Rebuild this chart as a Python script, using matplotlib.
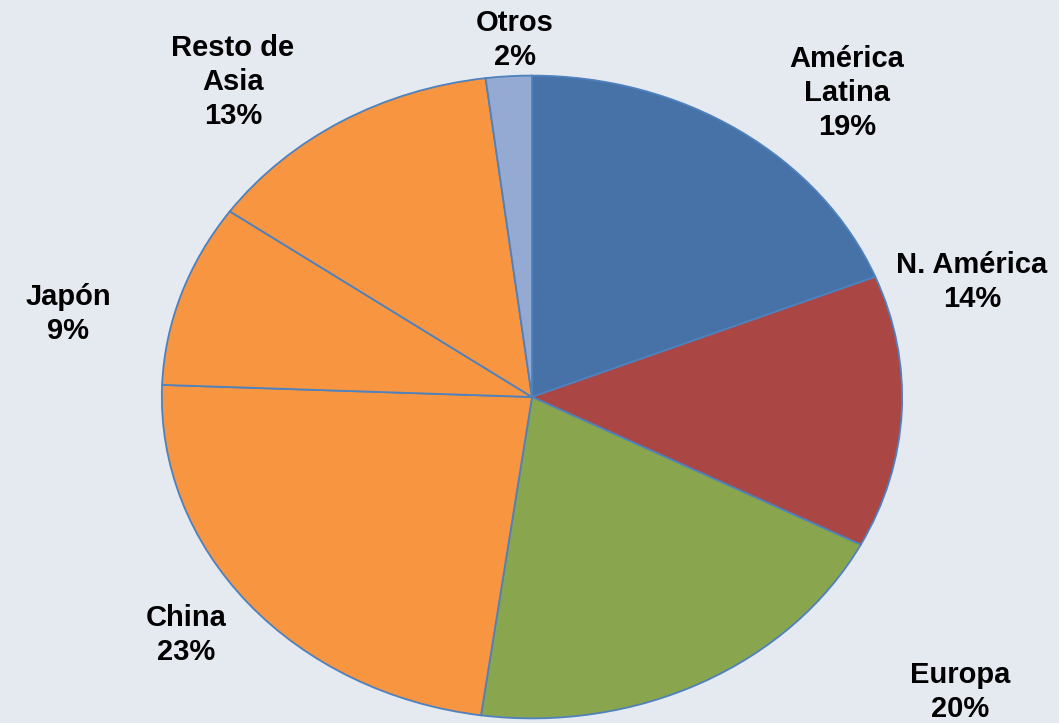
import matplotlib
matplotlib.use("Agg")
import matplotlib.pyplot as plt

categories = ["América\nLatina", "N. América", "Europa", "China", "Japón", "Resto de\nAsia", "Otros"]
values = [18.9, 13.7, 19.6, 23.4, 9.2, 13.2, 2.0]
colors = ["#4672A8", "#AA4644", "#89A64E", "#F79540", "#F79540", "#F79540", "#94AAD3"]
label_pos_px = [(847, 93), (972, 282), (960, 692), (186, 635), (68, 314), (233, 82), (515, 40)]

W, H = 1059, 723
fig = plt.figure(figsize=(W / 100, H / 100), dpi=100)
bg = "#E5EAF1"
fig.patch.set_facecolor(bg)

cx, cy, rx, ry = 532, 397, 372, 323
ax = fig.add_axes([(cx - rx) / W, (H - (cy + ry)) / H, 2 * rx / W, 2 * ry / H])
ax.set_facecolor(bg)
ax.pie(values, colors=colors, startangle=90, counterclock=False,
       wedgeprops=dict(edgecolor="#4F81BD", linewidth=1.3))
ax.set_aspect("auto")
ax.set_xlim(-1.005, 1.005)
ax.set_ylim(-1.005, 1.005)
ax.axis("off")

for cat, v, (px, py) in zip(categories, values, label_pos_px):
    fig.text(px / W, 1 - py / H, f"{cat}\n{v:.0f}%", ha="center", va="center",
             fontsize=21, fontweight="bold", family="Liberation Sans",
             linespacing=1.28, color="black")

fig.savefig("out.png", dpi=100, facecolor=bg)
